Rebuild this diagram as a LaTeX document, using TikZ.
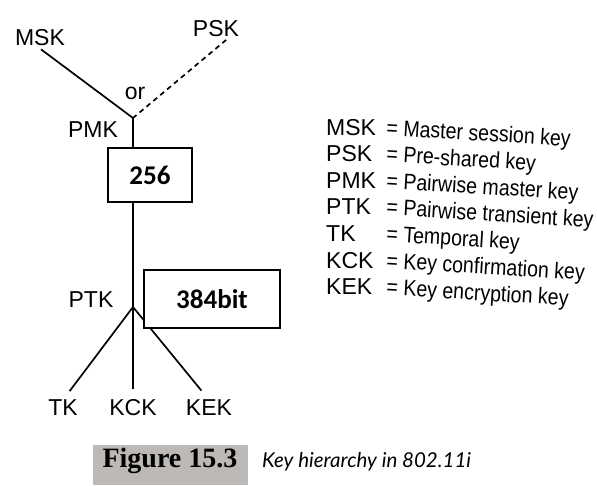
\documentclass[tikz,border=0pt]{standalone}
\usepackage{fontspec}
\setmainfont{Liberation Sans}
\newfontfamily\boxfont{Carlito}
\newfontfamily\capfont{Liberation Serif}
\newfontfamily\capitfont{Lato}
\usepackage{tikz}
\usepackage{xcolor}
\definecolor{capgray}{HTML}{BDB9B6}
\tikzset{
  keyname/.style={font=\fontsize{23}{25}\selectfont, inner sep=0pt},
  bitbox/.style={draw, fill=white, line width=1.3pt, inner sep=0pt, font=\boxfont\bfseries\fontsize{27}{29}\selectfont},
  keyline/.style={line width=1.7pt},
  psklink/.style={keyline, dash pattern=on 5pt off 4pt},
  legabbr/.style={font=\fontsize{23}{25}\selectfont, inner sep=0pt, anchor=base west},
  legdef/.style={font=\fontsize{22.5}{24}\selectfont, inner sep=0pt, anchor=base west, rotate=-3.5, xscale=0.87},
}

\begin{document}
\begin{tikzpicture}[x=1pt,y=-1pt]
\useasboundingbox (0,0) rectangle (597,485);
\node[keyname] (msk) at (40,38) {MSK};
\node[keyname] (psk) at (216,29) {PSK};
\node[keyname] (or) at (135,93) {or};
\node[keyname] (pmk) at (93,130) {PMK};
\node[keyname] (ptk) at (91,300) {PTK};
\node[keyname] (tk) at (63,408) {TK};
\node[keyname] (kck) at (133,408) {KCK};
\node[keyname] (kek) at (209,408) {KEK};
\coordinate (pmkjoin) at (133,118);
\coordinate (ptkjoin) at (133,307);
\draw[keyline, shorten <=5pt] ([xshift=-3pt]msk.south) -- (pmkjoin);
\draw[psklink, shorten <=4pt] ([xshift=-10pt]psk.south east) -- (pmkjoin);
\draw[keyline, shorten >=11pt] (pmkjoin) -- (ptkjoin) -- (kck.north);
\draw[keyline, shorten >=11pt] (ptkjoin) -- (tk.north);
\draw[keyline, shorten >=12pt] (ptkjoin) -- (kek.north);
\node[bitbox, minimum width=84pt, minimum height=54pt] (pmkbits) at (150,175) {256};
\node[bitbox, minimum width=136pt, minimum height=58pt] (ptkbits) at (212,299) {384bit};
\foreach \abbr/\full [count=\i] in {MSK/Master session key, PSK/Pre-shared key, PMK/Pairwise master key, PTK/Pairwise transient key, TK/Temporal key, KCK/Key confirmation key, KEK/Key encryption key}{
  \node[legabbr] (abbr\i) at (326,108.5+26.6*\i) {\abbr};
  \node[legdef] (full\i) at (386,108.5+26.6*\i) {= \full};
}
\node[fill=capgray, inner sep=0pt, minimum width=155pt, minimum height=40pt, anchor=north west] (figbox) at (93,445) {};
\node[anchor=base, inner sep=0pt, font=\capfont\bfseries\fontsize{28}{30}\selectfont] (fignum) at (170,467) {Figure 15.3};
\node[anchor=base west, inner sep=0pt, font=\capitfont\itshape\fontsize{20.5}{23}\selectfont] (figtitle) at (262,467) {Key hierarchy in 802.11i};
\end{tikzpicture}
\end{document}
